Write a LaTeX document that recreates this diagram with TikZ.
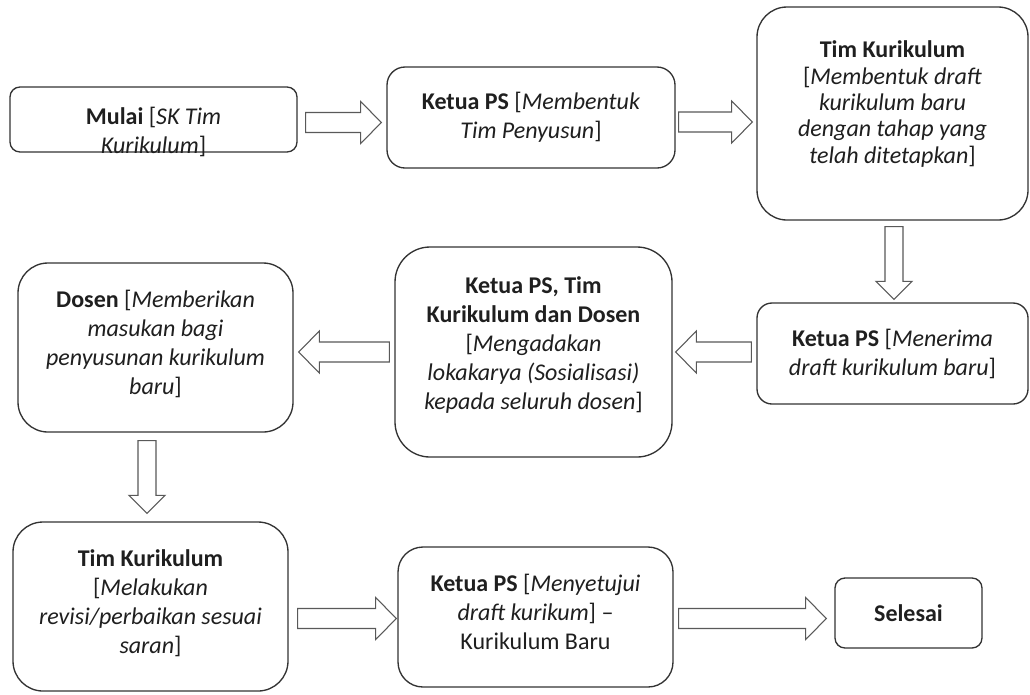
\documentclass[tikz,border=0pt]{standalone}
\usepackage{fontspec}
\setmainfont{Carlito}
\usetikzlibrary{calc}
\tikzset{
  bx/.style n args={3}{draw=black!80, line width=1pt, rounded corners=#3*0.75pt,
    minimum width=#1*0.75pt, minimum height=#2*0.75pt, inner sep=0pt},
  txt/.style={align=center, text=black!88, inner sep=0pt,
    font=\fontsize{18}{21.8}\selectfont},
  barr/.style={draw=black!65, fill=white, line width=0.8pt, line join=miter}
}
% horizontal right block arrow: start point #1, tip x from #2
\newcommand\blkR[2]{\draw[barr] let \p1=#1, \p2=#2 in
  (\x1,\y1+7.5pt) -- (\x2-15.5pt,\y1+7.5pt) -- (\x2-15.5pt,\y1+15.75pt) -- (\x2,\y1)
  -- (\x2-15.5pt,\y1-15.75pt) -- (\x2-15.5pt,\y1-7.5pt) -- (\x1,\y1-7.5pt) -- cycle;}
% horizontal left block arrow
\newcommand\blkL[2]{\draw[barr] let \p1=#1, \p2=#2 in
  (\x1,\y1+7.5pt) -- (\x2+15.5pt,\y1+7.5pt) -- (\x2+15.5pt,\y1+15.75pt) -- (\x2,\y1)
  -- (\x2+15.5pt,\y1-15.75pt) -- (\x2+15.5pt,\y1-7.5pt) -- (\x1,\y1-7.5pt) -- cycle;}
% vertical down block arrow
\newcommand\blkD[2]{\draw[barr] let \p1=#1, \p2=#2 in
  (\x1-6.75pt,\y1) -- (\x1-6.75pt,\y2+13.5pt) -- (\x1-13.5pt,\y2+13.5pt) -- (\x1,\y2)
  -- (\x1+13.5pt,\y2+13.5pt) -- (\x1+6.75pt,\y2+13.5pt) -- (\x1+6.75pt,\y1) -- cycle;}
\begin{document}
\begin{tikzpicture}[x=0.75pt,y=-0.75pt]
\useasboundingbox[fill=white] (0,0) rectangle (1030,694);

% boxes
\node[bx={287}{65}{10}]  (b1) at (153.5,119.5) {};
\node[bx={288}{101}{18}] (b2) at (531,117.5) {};
\node[bx={271}{213}{30}] (b3) at (892.5,113.5) {};
\node[bx={271}{101}{15}] (b4) at (892.5,353.5) {};
\node[bx={277}{210}{35}] (b5) at (533.5,352) {};
\node[bx={275}{169}{30}] (b6) at (155.5,347.5) {};
\node[bx={275}{169}{30}] (b7) at (150.5,606.5) {};
\node[bx={275}{140}{25}] (b8) at (535.5,617) {};
\node[bx={147}{70}{10}]  (b9) at (908.5,613) {};

% texts
\node[txt] (t1) at (153.5,131.5) {\textbf{Mulai} [\textit{SK Tim}\\\textit{Kurikulum}]};
\node[txt] (t2) at (531,117.5) {\textbf{Ketua PS} [\textit{Membentuk}\\\textit{Tim Penyusun}]};
\node[txt, font=\fontsize{18}{19.8}\selectfont] (t3) at (892.5,104) {\textbf{Tim Kurikulum}\\{[}\textit{Membentuk draft}\\\textit{kurikulum baru}\\\textit{dengan tahap yang}\\\textit{telah ditetapkan}]};
\node[txt] (t4) at (892.5,353.5) {\textbf{Ketua PS} [\textit{Menerima}\\\textit{draft kurikulum baru}]};
\node[txt] (t5) at (533.5,345) {\textbf{Ketua PS, Tim}\\\textbf{Kurikulum dan Dosen}\\{[}\textit{Mengadakan}\\\textit{lokakarya (Sosialisasi)}\\\textit{kepada seluruh dosen}]};
\node[txt] (t6) at (155.5,344) {\textbf{Dosen} [\textit{Memberikan}\\\textit{masukan bagi}\\\textit{penyusunan kurikulum}\\\textit{baru}]};
\node[txt] (t7) at (150.5,603) {\textbf{Tim Kurikulum}\\{[}\textit{Melakukan}\\\textit{revisi/perbaikan sesuai}\\\textit{saran}]};
\node[txt] (t8) at (535.5,612) {\textbf{Ketua PS} [\textit{Menyetujui}\\\textit{draft kurikum}] \textendash\\Kurikulum Baru};
\node[txt] (t9) at (908.5,613) {\textbf{Selesai}};

% block arrows
\blkR{($(b1.east)+(8,3)$)}{($(b2.west)+(-5,0)$)}
\blkR{($(b2.east)+(3,4.5)$)}{($(b3.west)+(-4,0)$)}
\blkD{($(b3.south)+(1.5,6)$)}{($(b4.north)+(0,-3)$)}
\blkL{($(b4.west)+(-5,-1.5)$)}{($(b5.east)+(3,0)$)}
\blkL{($(b5.west)+(-5,0)$)}{($(b6.east)+(5,0)$)}
\blkD{($(b6.south)+(-8.5,8)$)}{($(b7.north)+(0,-8)$)}
\blkR{($(b7.east)+(9,12)$)}{($(b8.west)+(-1,0)$)}
\blkR{($(b8.east)+(5,1.5)$)}{($(b9.west)+(-8,0)$)}
\end{tikzpicture}
\end{document}
